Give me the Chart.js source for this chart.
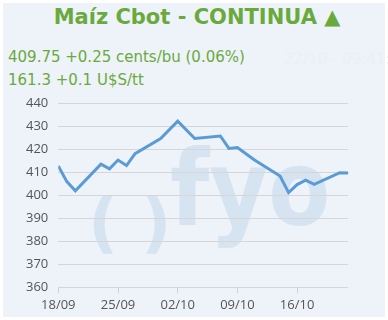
<!DOCTYPE html>
<html>
<head>
<meta charset="utf-8">
<script src="https://cdn.jsdelivr.net/npm/chart.js@4.4.0/dist/chart.umd.min.js"></script>
<style>
  html, body { margin: 0; padding: 0; background: #ffffff; }
  #panel {
    position: absolute; left: 3px; top: 3px; width: 382px; height: 314px;
    background: #eef2f9; overflow: hidden;
  }
  #title {
    position: absolute; left: 0; top: 5px; width: 394px; text-align: center;
    font: bold 21px "DejaVu Sans", sans-serif; color: #6aaa3c; white-space: nowrap;
  }
  .quote {
    position: absolute; left: 8px; font: 15px "DejaVu Sans", sans-serif; color: #6aaa3c; white-space: nowrap;
  }
  #stamp {
    position: absolute; left: 284px; top: 50px; font: 15px "DejaVu Sans", sans-serif;
    color: #ebeff6; white-space: nowrap;
  }
  .mark {
    position: absolute; font-family: "DejaVu Sans", sans-serif; font-weight: bold;
    color: #d6e4f1; white-space: nowrap; line-height: normal;
  }
  canvas { position: absolute; left: 0; top: 0; }
</style>
</head>
<body>
<div id="panel"></div>
<div class="mark" style="left:88px; top:184px; font-size:66px;">(&nbsp;)</div>
<div class="mark" style="left:170px; top:128px; font-size:105px; transform: scaleX(0.86); transform-origin: left top;">fyo</div>
<div id="title">Maíz Cbot - CONTINUA ▲</div>
<div class="quote" style="top:48px;">409.75 +0.25 cents/bu (0.06%)</div>
<div class="quote" style="top:71px;">161.3 +0.1 U$S/tt</div>
<div id="stamp">22/10 - 09:41:32</div>
<canvas id="chart" width="388" height="320"></canvas>
<script>
// price readings, cents/bu
const dates = ['2023-09-18', '2023-09-19', '2023-09-20', '2023-09-23', '2023-09-24', '2023-09-25',
  '2023-09-26', '2023-09-27', '2023-09-30', '2023-10-02', '2023-10-04', '2023-10-07', '2023-10-08',
  '2023-10-09', '2023-10-11', '2023-10-14', '2023-10-15', '2023-10-16', '2023-10-17', '2023-10-18',
  '2023-10-21', '2023-10-22'];
const prices = [412.8, 406.0, 402.0, 413.6, 411.6, 415.4,
  413.0, 418.2, 424.8, 432.4, 424.8, 425.9, 420.5,
  420.9, 415.4, 408.4, 401.2, 404.7, 406.6, 404.8,
  409.9, 409.75];
const tickLabels = ['18/09', '25/09', '02/10', '09/10', '16/10'];
const yTicks = [360, 370, 380, 390, 400, 410, 420, 430, 440];

const start = new Date(dates[0] + 'T00:00:00Z');
const dayOf = d => Math.round((new Date(d + 'T00:00:00Z') - start) / 86400000);
const points = dates.map((d, i) => ({ x: dayOf(d), y: prices[i] }));

const tickFont = { family: '"Open Sans", sans-serif', size: 13 };

new Chart(document.getElementById('chart'), {
  type: 'line',
  data: {
    datasets: [{
      data: points,
      borderColor: '#5b9bd5',
      borderWidth: 3,
      pointRadius: 0,
      tension: 0,
      fill: false
    }]
  },
  options: {
    responsive: false,
    animation: false,
    layout: { padding: { left: 0, right: 39.7, top: 103.7, bottom: 0 } },
    plugins: { legend: { display: false }, tooltip: { enabled: false } },
    scales: {
      x: {
        type: 'linear',
        min: 0,
        max: dayOf(dates[dates.length - 1]),
        afterBuildTicks: scale => {
          scale.ticks = tickLabels.map((t, i) => ({ value: i * 7 }));
        },
        afterFit: scale => { scale.height = 33; },
        ticks: {
          callback: (v, i) => tickLabels[i],
          color: '#555555',
          font: tickFont,
          padding: 4,
          maxRotation: 0
        },
        grid: { drawOnChartArea: false, drawTicks: true, tickLength: 6, color: '#cfcfcf' },
        border: { display: false }
      },
      y: {
        min: 360,
        max: 440,
        afterBuildTicks: scale => {
          scale.ticks = yTicks.map(v => ({ value: v }));
        },
        afterFit: scale => { scale.width = 58.3; },
        ticks: { color: '#555555', font: tickFont, padding: 10 },
        grid: { color: '#d6d6d6', drawTicks: false },
        border: { display: false }
      }
    }
  }
});
</script>
</body>
</html>
